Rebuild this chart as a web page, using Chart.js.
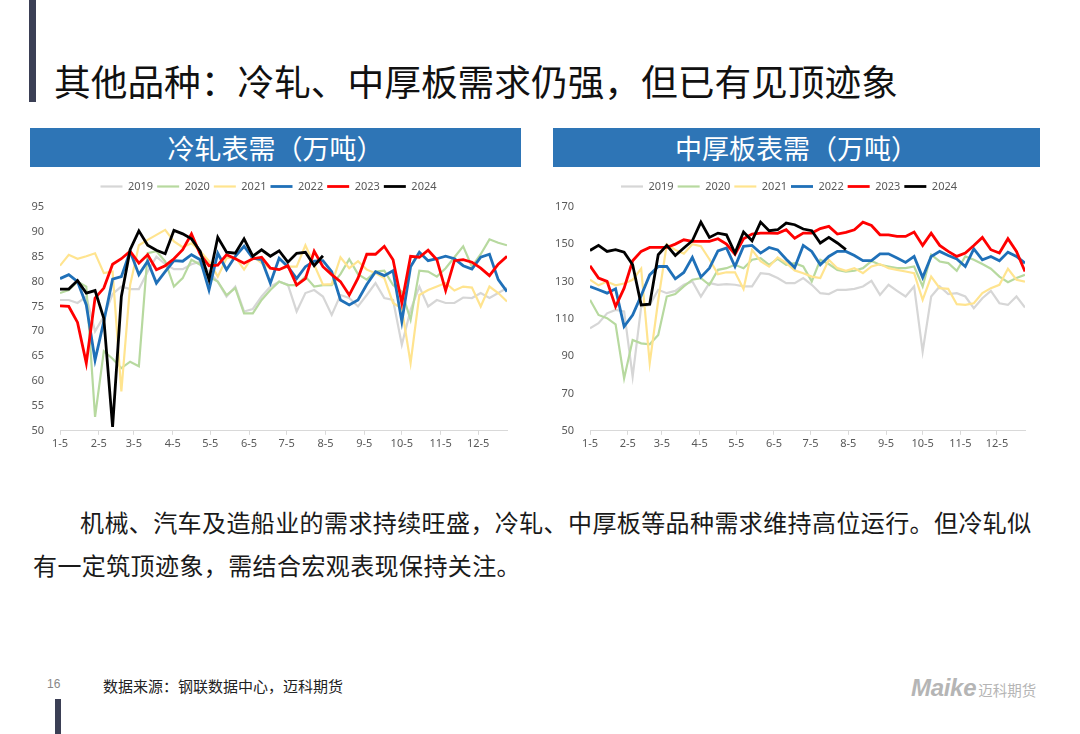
<!DOCTYPE html>
<html>
<head>
<meta charset="utf-8">
<script src="https://cdn.jsdelivr.net/npm/chart.js@4"></script>
<style>
  html, body { margin: 0; padding: 0; background: #fff; }
  body { width: 1080px; height: 734px; position: relative; overflow: hidden;
         font-family: "Noto Sans CJK SC", "Noto Sans", sans-serif; }
  .bar-top { position: absolute; left: 29px; top: 0; width: 7px; height: 102px; background: #3b3f55; }
  .bar-bottom { position: absolute; left: 55px; top: 699px; width: 6px; height: 35px; background: #3b3f55; }
  .title { position: absolute; left: 54px; top: 56px; font-size: 36.7px; line-height: 48px; color: #111; white-space: nowrap; }
  .head { position: absolute; top: 128px; height: 39px; background: #2e75b6; color: #fff;
          font-size: 27px; line-height: 39px; text-align: center; }
  .chart { position: absolute; top: 167px; height: 290px; }
  .body-text { position: absolute; font-size: 24px; line-height: 43px; color: #1a1a1a; white-space: nowrap; letter-spacing: 0.4px; }
  .page { position: absolute; left: 47px; top: 677px; font-size: 12px; color: #888; font-family: "Liberation Sans", sans-serif; }
  .source { position: absolute; left: 103px; top: 675px; font-size: 15px; color: #222; }
  .logo { position: absolute; left: 911px; top: 674px; color: #b5b5b5; white-space: nowrap; }
  .logo b { font-family: "Liberation Sans", Arial, sans-serif; font-style: italic; font-size: 24px; font-weight: 900; letter-spacing: -0.3px; }
  .logo span { font-size: 14.5px; margin-left: 2px; }
</style>
</head>
<body>
<div class="bar-top"></div>
<div class="title">其他品种：冷轧、中厚板需求仍强，但已有见顶迹象</div>

<div class="head" style="left:30px;width:491px;">冷轧表需（万吨）</div>
<div class="head" style="left:553px;width:487px;">中厚板表需（万吨）</div>

<div class="chart" style="left:30px;width:491px;"><canvas id="coldChart"></canvas></div>
<div class="chart" style="left:553px;width:487px;"><canvas id="plateChart"></canvas></div>

<div class="body-text" style="left:80px;top:500px;">机械、汽车及造船业的需求持续旺盛，冷轧、中厚板等品种需求维持高位运行。但冷轧似</div>
<div class="body-text" style="left:33px;top:543px;">有一定筑顶迹象，需结合宏观表现保持关注。</div>

<div class="page">16</div>
<div class="source">数据来源：钢联数据中心，迈科期货</div>
<div class="logo"><b>Maike</b><span>迈科期货</span></div>
<div class="bar-bottom"></div>

<script>
// 年份与月份刻度
var years = ['2019', '2020', '2021', '2022', '2023', '2024'];
var monthLabels = ['1-5', '2-5', '3-5', '4-5', '5-5', '6-5', '7-5', '8-5', '9-5', '10-5', '11-5', '12-5'];

// 冷轧表需（万吨），每周一个点
var cold2019 = [76.3, 76.3, 75.7, 77, 70, 73, 77.5, 79, 78.5, 78.5, 82, 85, 83.5, 82.5, 82.5, 83.5, 84, 82, 80, 77, 79, 74, 74.5, 77, 79, 80, 79.4, 74, 77.7, 78.3, 77, 73.3, 77.3, 76.7, 75, 77.3, 79.7, 76.7, 76.3, 67.3, 74.3, 79, 75, 76.3, 75.7, 75.7, 76.8, 76.7, 77.7, 76.7, 77.7, 78.7];
var cold2020 = [77.7, 78.3, 80, 79, 52.8, 66, 64.5, 62.6, 63.9, 63, 85.7, 86.1, 84.1, 79, 80.7, 84.4, 83.4, 81, 80, 77.3, 78.7, 73.6, 73.6, 76.3, 78.3, 80, 79.3, 79.3, 81, 79, 79.3, 79.3, 81.5, 84.5, 81.5, 80.4, 82, 82.2, 79.3, 78, 72.3, 82.2, 82, 81, 82.7, 84.9, 87.1, 83, 85.5, 88.5, 87.8, 87.3];
var cold2021 = [83.2, 85.4, 84.6, 85.1, 85.7, 81.7, 82, 57.9, 79.3, 87.3, 88.4, 89.4, 90.4, 88.1, 86.9, 87.7, 86.1, 84.1, 81, 84.7, 84.9, 82.4, 85.1, 83.7, 82.7, 82.4, 83, 83, 87.3, 83.4, 79.4, 79.5, 84.9, 82.7, 84.1, 82.4, 81.7, 80.7, 75.7, 74.6, 63.6, 77.3, 78.3, 79, 79.7, 78.2, 79, 78.8, 75, 79, 77.7, 76];
var cold2022 = [80.6, 81.4, 80, 75.3, 64.2, 72, 80.5, 81, 86.1, 81.4, 84.1, 79.7, 82, 84.2, 84.1, 85.4, 84.4, 78.3, 85.7, 82.4, 85.1, 87.1, 84.7, 84.4, 79.7, 84.7, 83, 80.6, 83, 84.1, 84.2, 82, 76.3, 75.3, 76.3, 79.4, 82, 81.2, 82.2, 72, 83, 85.9, 84.2, 84.6, 85.1, 84.6, 83.2, 82.5, 84.9, 85.5, 80.4, 78];
var cold2023 = [75.1, 75, 71.8, 63.6, 76.7, 78.7, 83.5, 84.6, 86.1, 83.7, 85.4, 82.4, 83.2, 84.6, 86.4, 89.6, 85.5, 83.2, 83.3, 85.4, 84.6, 83.7, 84.6, 84.9, 82.7, 82.4, 83.2, 79.3, 80.6, 86.1, 83, 81.4, 80, 77.3, 80.7, 85.5, 85.5, 87.1, 84.4, 75.7, 85.1, 84.9, 86.3, 84.4, 78.2, 84.2, 84.4, 83.9, 82.7, 81.2, 83.5, 85.1];
var cold2024 = [78.5, 78.5, 80.2, 77.7, 78.2, 72.6, 50.8, 77, 86.4, 90.2, 87.3, 86.3, 85.6, 90.3, 89.6, 88.6, 86.1, 80.4, 88.9, 85.9, 85.7, 88.6, 85.1, 86.4, 85.1, 86.2, 83.9, 85.7, 85.9, 83.2, 85.2];

// 中厚板表需（万吨）
var plate2019 = [105, 107.7, 113, 114.8, 114, 79, 116.6, 117.5, 125.6, 123.8, 125, 128.3, 130.1, 122, 129.2, 128.3, 128.6, 128.3, 127.4, 127.4, 134.5, 134, 131.9, 129.2, 129.2, 131.9, 128.3, 123.8, 123.3, 125.6, 125.6, 126.1, 127.4, 130.4, 122.9, 128.3, 125, 122, 127.4, 92.4, 122, 127.4, 123.3, 123.8, 122, 115.7, 121.1, 125, 118.4, 117.5, 122, 116.1];
var plate2020 = [120.2, 112.1, 110.4, 107.1, 78.1, 98.7, 96.9, 96.4, 101.4, 122, 123.3, 127.4, 131, 131.9, 128.3, 136.3, 137.2, 139, 137.2, 141.7, 142.6, 139, 142.2, 139, 139.9, 138.1, 130.1, 141.7, 139.4, 136.3, 135.4, 135.8, 137.2, 141, 139, 138.1, 137.2, 137.2, 138.1, 127.4, 144.4, 140.8, 139.9, 135.8, 143.5, 141.7, 139.4, 136.9, 132.7, 129.7, 131.9, 133.6];
var plate2021 = [131, 128, 130, 128, 129, 131, 137, 86.2, 120, 150, 147, 145, 150, 149, 142, 134, 135, 135, 126, 147, 141, 138, 143, 140, 136, 134.5, 132.7, 131.9, 141.7, 137.2, 135.8, 137.2, 134.5, 138.1, 139.4, 137.2, 136.3, 135.4, 134.5, 120.2, 132.7, 126.5, 126.1, 117.9, 117.5, 118.4, 123.8, 126.5, 128.3, 136.9, 131, 130];
var plate2022 = [127.4, 125.6, 123.8, 126.1, 105.9, 112.1, 122.5, 133.6, 138.1, 138.1, 131.5, 134.9, 143, 132.4, 137.2, 146.5, 148, 138.1, 148.9, 149.4, 145.3, 148.3, 147, 142, 137.5, 149.4, 146.2, 139, 143.5, 146.2, 146.2, 144, 141.2, 141.2, 144.9, 144.9, 142.6, 140.3, 143.5, 132.2, 143.5, 146.2, 144, 142.2, 138.1, 147.6, 141.7, 143.5, 141.2, 145.8, 143.5, 139.9];
var plate2023 = [138.5, 131.9, 130.1, 116.6, 126.5, 141.2, 146.2, 148.3, 148.3, 148.3, 150.1, 152.4, 151.6, 151.6, 151.6, 153, 150.1, 144.7, 153, 155.5, 156, 156, 155.9, 157.8, 153.3, 156, 156, 158.4, 159.6, 155.5, 156.4, 157.8, 161.9, 160.1, 155.1, 155.1, 154.2, 154.2, 156.6, 149.4, 156, 149.4, 146.2, 143.5, 145.3, 149.4, 153.7, 147.1, 145.3, 153, 146.2, 135.4];
var plate2024 = [146.7, 149.4, 146.2, 147.1, 145.8, 139, 117.5, 117.9, 144.4, 149.4, 144, 148, 151.9, 161.9, 153.7, 156, 155.1, 145.3, 156.6, 151.9, 161.9, 157.3, 157.8, 161.4, 160.5, 158.2, 157.3, 150.7, 153.7, 150.7, 147.1];

var lineColors = ['#d6d6d6', '#b7d99f', '#ffe48f', '#1f70b8', '#ff0000', '#000000'];
var lineWidths = [2.2, 2.2, 2.2, 2.8, 2.8, 2.8];

// 每月5日对应的周序号
function monthTickPositions() {
    var start = Date.UTC(2023, 0, 5);
    return monthLabels.map(function (lab) {
        var m = parseInt(lab.split('-')[0], 10);
        return (Date.UTC(2023, m - 1, 5) - start) / 86400000 / 7;
    });
}

// 图例下方多留一点空隙
var legendGap = {
    id: 'legendGap',
    afterInit: function (chart) {
        var fit = chart.legend.fit;
        chart.legend.fit = function () {
            fit.call(this);
            this.height += 5;
        };
    }
};

function crearGrafico(id, series, yMin, yMax, yStep, yAxisWidth, padRight) {
    var ticksPos = monthTickPositions();
    var datasets = series.map(function (vals, k) {
        return {
            label: years[k],
            data: vals.map(function (v, i) { return { x: i, y: v }; }),
            borderColor: lineColors[k],
            backgroundColor: lineColors[k],
            borderWidth: lineWidths[k],
            pointRadius: 0,
            tension: 0,
            order: series.length - k
        };
    });
    var ctx = document.getElementById(id).getContext('2d');
    return new Chart(ctx, {
        type: 'line',
        data: { datasets: datasets },
        plugins: [legendGap],
        options: {
            responsive: true,
            maintainAspectRatio: false,
            animation: false,
            layout: { padding: { top: 10, right: padRight, bottom: 5, left: 0 } },
            plugins: {
                legend: {
                    position: 'top',
                    labels: {
                        usePointStyle: true,
                        pointStyle: 'line',
                        pointStyleWidth: 22,
                        padding: 4,
                        color: '#595959',
                        font: { family: 'Noto Sans', size: 11 },
                        sort: function (a, b) { return a.datasetIndex - b.datasetIndex; }
                    }
                },
                tooltip: { enabled: false }
            },
            scales: {
                x: {
                    type: 'linear',
                    min: 0,
                    max: 51,
                    afterBuildTicks: function (axis) {
                        axis.ticks = ticksPos.map(function (p) { return { value: p }; });
                    },
                    ticks: {
                        autoSkip: false,
                        maxRotation: 0,
                        padding: 2,
                        color: '#595959',
                        font: { family: 'Noto Sans', size: 11 },
                        callback: function (value, index) { return monthLabels[index]; }
                    },
                    grid: { display: true, drawOnChartArea: false, drawTicks: true, tickLength: 4, color: '#d9d9d9' },
                    border: { display: true, color: '#d9d9d9' }
                },
                y: {
                    min: yMin,
                    max: yMax,
                    afterFit: function (scale) { scale.width = yAxisWidth; },
                    ticks: {
                        stepSize: yStep,
                        padding: 8,
                        color: '#595959',
                        font: { family: 'Noto Sans', size: 11 }
                    },
                    grid: { display: false },
                    border: { display: false }
                }
            }
        }
    });
}

crearGrafico('coldChart', [cold2019, cold2020, cold2021, cold2022, cold2023, cold2024], 50, 95, 5, 30, 14);
crearGrafico('plateChart', [plate2019, plate2020, plate2021, plate2022, plate2023, plate2024], 50, 170, 20, 37, 15);
</script>
</body>
</html>
